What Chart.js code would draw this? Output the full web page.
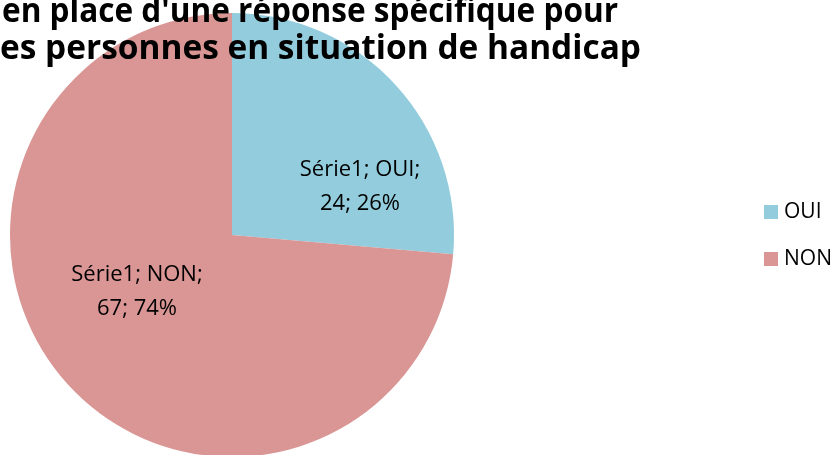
<!DOCTYPE html>
<html>
<head>
<meta charset="utf-8">
<script src="https://cdn.jsdelivr.net/npm/chart.js@4"></script>
<style>
  html, body { margin: 0; padding: 0; background: #fff; }
  #wrap { width: 840px; height: 455px; overflow: hidden; position: relative; }
</style>
</head>
<body>
<div id="wrap"><canvas id="pieChart" width="840" height="460"></canvas></div>
<script>
const seriesName = 'Série1';
const categories = ['OUI', 'NON'];
const values = [24, 67];
const percents = ['26%', '74%'];
const colors = ['#93CDDD', '#D99694'];
const titleLines = ["en place d'une réponse spécifique pour", 'es personnes en situation de handicap'];

// labels on slices, title and legend drawn by hand to match the original layout
const labelPos = [{ dx: 128, dy: -48 }, { dx: -95, dy: 57 }];
const titleSpans = [{ x0: 2, x1: 618, y: 22 }, { x0: 0, x1: 641, y: 59 }];

function fitText(ctx, text, x0, x1, y) {
    const w = ctx.measureText(text).width;
    ctx.save();
    ctx.translate(x0, y);
    ctx.scale((x1 - x0) / w, 1);
    ctx.fillText(text, 0, 0);
    ctx.restore();
}

const overlay = {
    id: 'overlay',
    afterDraw(chart) {
        const ctx = chart.ctx;
        const arc = chart.getDatasetMeta(0).data[0];
        const cx = arc.x, cy = arc.y;
        ctx.save();
        ctx.fillStyle = '#000';
        ctx.textAlign = 'center';
        ctx.textBaseline = 'middle';
        ctx.font = '22px "Open Sans", sans-serif';
        categories.forEach((c, i) => {
            const x = cx + labelPos[i].dx, y = cy + labelPos[i].dy;
            ctx.fillText(seriesName + '; ' + c + ';', x, y - 17);
            ctx.fillText(values[i] + '; ' + percents[i], x, y + 17);
        });

        // title (cut on the left like the source)
        ctx.font = 'bold 34px "Open Sans", sans-serif';
        ctx.textAlign = 'left';
        ctx.textBaseline = 'alphabetic';
        titleLines.forEach((t, i) => {
            const s = titleSpans[i];
            fitText(ctx, t, s.x0, s.x1, s.y);
        });

        // legend
        ctx.font = '21px "Open Sans", sans-serif';
        ctx.textAlign = 'left';
        ctx.textBaseline = 'middle';
        categories.forEach((c, i) => {
            const y = 212 + i * 47;
            ctx.fillStyle = colors[i];
            ctx.fillRect(764, y - 7, 14, 14);
            ctx.fillStyle = '#000';
            ctx.fillText(c, 784, y);
        });
        ctx.restore();
    }
};

new Chart(document.getElementById('pieChart'), {
    type: 'pie',
    data: {
        labels: categories,
        datasets: [{
            label: seriesName,
            data: values,
            backgroundColor: colors,
            borderWidth: 0
        }]
    },
    options: {
        responsive: false,
        animation: false,
        layout: { padding: { left: 10, right: 386, top: 13, bottom: 3 } },
        plugins: {
            legend: { display: false },
            title: { display: false },
            tooltip: { enabled: false }
        }
    },
    plugins: [overlay]
});
</script>
</body>
</html>
